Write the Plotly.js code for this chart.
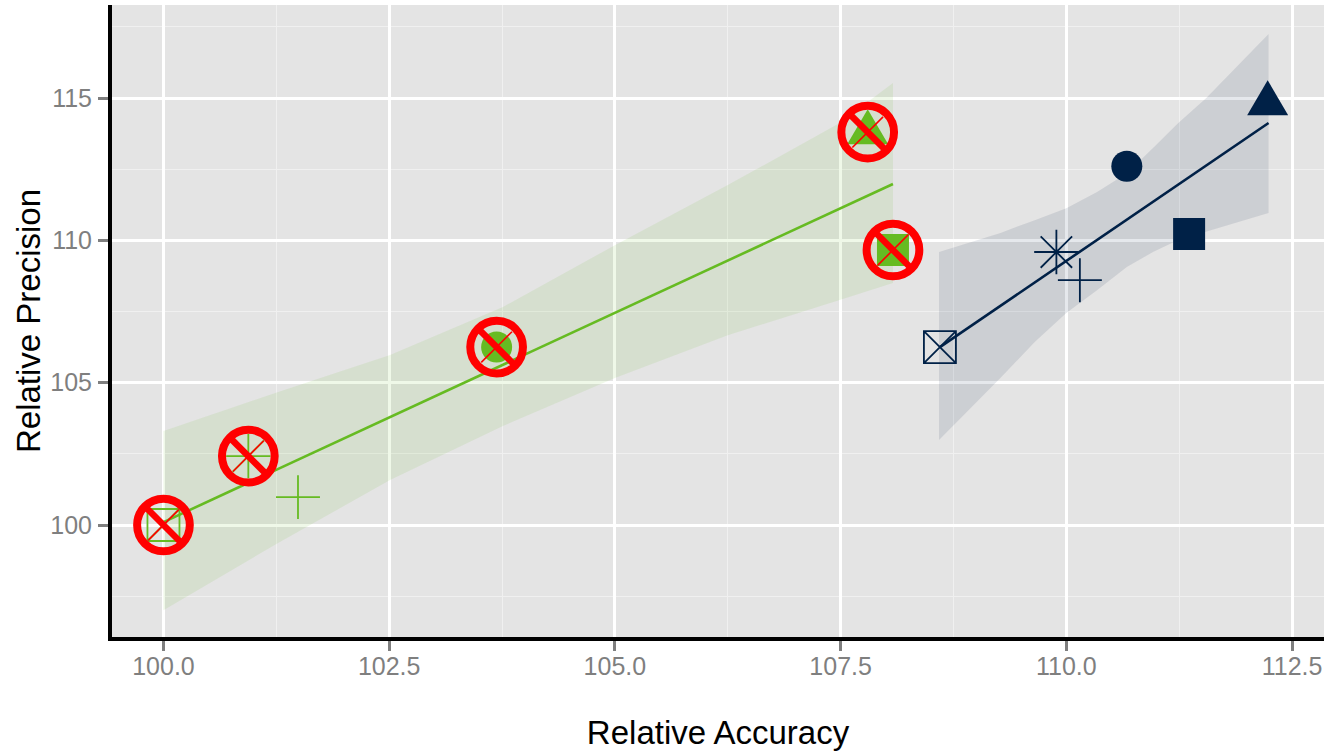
<!DOCTYPE html>
<html>
<head>
<meta charset="utf-8">
<script src="https://cdn.plot.ly/plotly-3.0.1.min.js"></script>
<style>html,body{margin:0;padding:0;background:#fff}#chart{width:1328px;height:751px}</style>
</head>
<body>
<div id="chart"></div>
<script>
// Points
const greenX = [100.0, 100.94, 101.49, 103.69, 107.80, 108.08];
const greenY = [100.0, 102.42, 100.98, 106.25, 113.80, 109.66];
const navyX = [108.60, 109.89, 110.15, 110.67, 111.36, 112.23];
const navyY = [106.25, 109.59, 108.60, 112.60, 110.22, 114.82];
const greenSymbols = ['square-x-open', 'asterisk-open', 'cross-thin-open', 'circle', 'triangle-up', 'square'];
const greenSizes = [32, 37, 31.4, 31, 30, 32];
const navySymbols = ['square-x-open', 'asterisk-open', 'cross-thin-open', 'circle', 'square', 'triangle-up'];
const navySizes = [32, 37, 31.4, 31, 32, 30];
const lineWidths = [1.8, 1.8, 1.8, 0, 0, 0];

// Crossed-out points (green series without the plain cross)
const crossedX = [100.0, 100.94, 103.69, 107.80, 108.08];
const crossedY = [100.0, 102.42, 106.25, 113.80, 109.66];

// Fit lines
const greenFitX = [100.0, 108.08];
const greenFitY = [100.10, 111.98];
const navyFitX = [108.60, 112.24];
const navyFitY = [106.25, 114.12];

// Confidence bands
const greenBandX = [100.0, 101.27, 102.51, 103.76, 105.0, 106.25, 107.49, 108.08];
const greenBandHi = [103.30, 104.67, 105.97, 107.66, 109.83, 111.94, 114.12, 115.53];
const greenBandLo = [97.01, 99.37, 101.58, 103.48, 105.16, 106.67, 107.90, 108.50];
const navyBandX = [108.59, 109.27, 109.65, 110.0, 110.34, 110.67, 110.96, 111.24, 111.55, 112.24];
const navyBandHi = [109.59, 110.26, 110.71, 111.13, 111.70, 112.36, 113.24, 114.12, 115.0, 117.25];
const navyBandLo = [102.99, 105.16, 106.43, 107.45, 108.25, 109.06, 109.59, 110.01, 110.29, 110.96];

const GREEN = '#66bb22';
const NAVY = '#002147';
const RED = '#ff0000';

function band(xs, hi, lo, rgba) {
  return {
    x: xs.concat(xs.slice().reverse()),
    y: hi.concat(lo.slice().reverse()),
    mode: 'lines', fill: 'toself', fillcolor: rgba,
    line: {width: 0}, hoverinfo: 'skip', showlegend: false
  };
}
function fit(xs, ys, color) {
  return {x: xs, y: ys, mode: 'lines', line: {color: color, width: 2.6}, showlegend: false};
}
function points(xs, ys, symbols, sizes, color) {
  return {
    x: xs, y: ys, mode: 'markers', showlegend: false,
    marker: {symbol: symbols, size: sizes, color: color, opacity: 1, line: {color: color, width: lineWidths}}
  };
}
function cross(symbol, size, width) {
  return {
    x: crossedX, y: crossedY, mode: 'markers', showlegend: false,
    marker: {symbol: symbol, size: size, color: RED, opacity: 1, line: {color: RED, width: width}}
  };
}
// ggplot's triangle is taller than Plotly's: extend it, anchored on the data point
function triangleShape(x, y, color) {
  return {
    type: 'path', layer: 'between', xsizemode: 'pixel', ysizemode: 'pixel',
    xanchor: x, yanchor: y, xref: 'x', yref: 'y',
    path: 'M -20.5 -12 L 20.5 -12 L 0 23 Z',
    fillcolor: color, line: {width: 0}
  };
}

const traces = [
  band(greenBandX, greenBandHi, greenBandLo, 'rgba(102,187,34,0.1)'),
  band(navyBandX, navyBandHi, navyBandLo, 'rgba(0,33,71,0.1)'),
  fit(greenFitX, greenFitY, GREEN),
  fit(navyFitX, navyFitY, NAVY),
  points(greenX, greenY, greenSymbols, greenSizes, GREEN),
  points(navyX, navyY, navySymbols, navySizes, NAVY),
  cross('line-ne', 30.7, 1.6),
  cross('line-nw', 37, 6.5),
  cross('circle-open', 52.7, 8)
];

const tickFont = {family: 'Liberation Sans, Arial, sans-serif', size: 25, color: '#7f7f7f'};
const titleFont = {family: 'Liberation Sans, Arial, sans-serif', size: 33, color: '#000000'};

const layout = {
  width: 1328, height: 751,
  margin: {l: 112, r: 4, t: 5, b: 114, pad: 0},
  paper_bgcolor: '#ffffff', plot_bgcolor: '#e4e4e4',
  showlegend: false,
  shapes: [
    triangleShape(greenX[4], greenY[4], GREEN),
    triangleShape(navyX[5], navyY[5], NAVY)
  ],
  xaxis: {
    range: [99.43, 112.854], tick0: 100, dtick: 2.5, tickformat: '.1f',
    showgrid: true, gridcolor: '#ffffff', gridwidth: 3, zeroline: false,
    showline: true, linecolor: '#000000', linewidth: 4,
    ticks: 'outside', ticklen: 10, tickwidth: 3, tickcolor: '#7f7f7f',
    tickfont: tickFont, ticklabelstandoff: -6,
    minor: {dtick: 1.25, showgrid: true, gridcolor: '#f0f0f0', gridwidth: 1},
    title: {text: 'Relative Accuracy', font: titleFont, standoff: 43}
  },
  yaxis: {
    range: [96.066, 118.267], tick0: 100, dtick: 5,
    showgrid: true, gridcolor: '#ffffff', gridwidth: 3, zeroline: false,
    showline: true, linecolor: '#000000', linewidth: 4,
    ticks: 'outside', ticklen: 10, tickwidth: 3, tickcolor: '#7f7f7f',
    tickfont: tickFont, ticklabelstandoff: 1,
    minor: {dtick: 2.5, showgrid: true, gridcolor: '#f0f0f0', gridwidth: 1},
    title: {text: 'Relative Precision', font: titleFont, standoff: 1}
  }
};

Plotly.newPlot('chart', traces, layout, {displayModeBar: false, staticPlot: true});
</script>
</body>
</html>
